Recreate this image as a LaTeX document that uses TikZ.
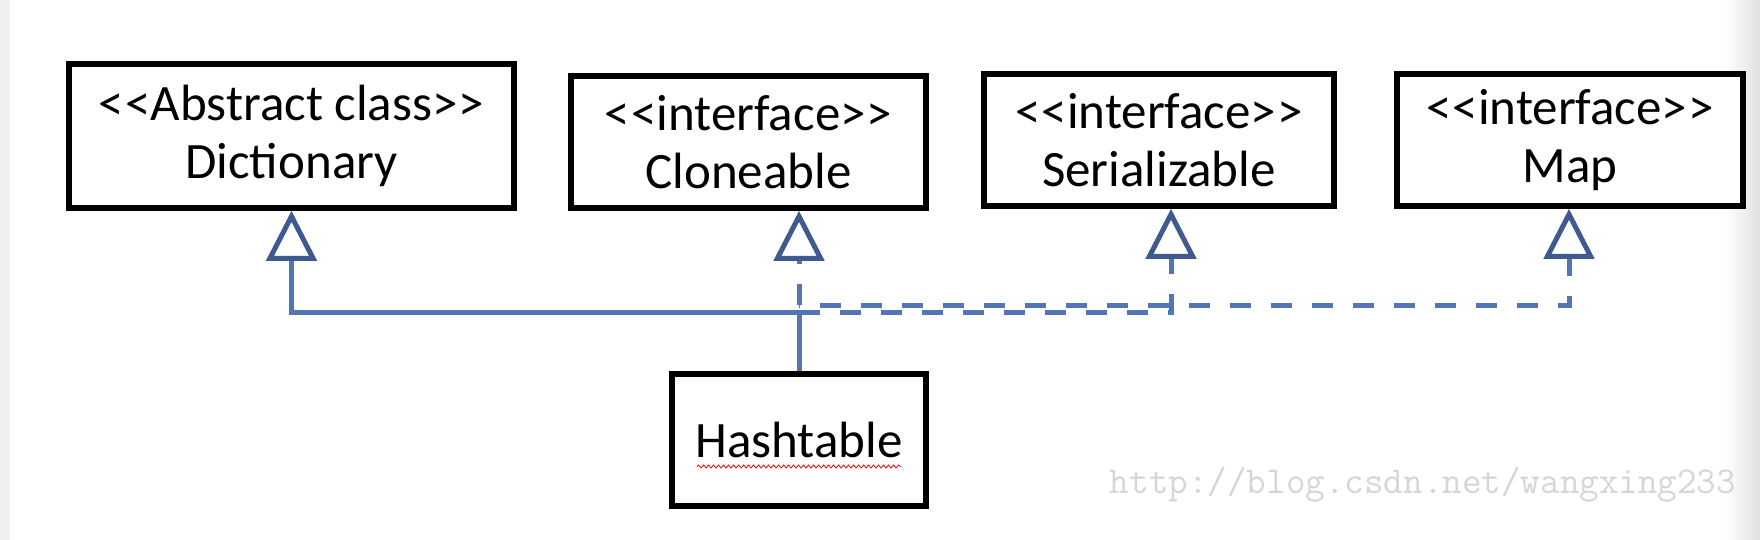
\documentclass[tikz,border=0pt]{standalone}
\usepackage{fontspec}
\setmainfont{Carlito}
\usetikzlibrary{arrows.meta,decorations.pathmorphing}
\definecolor{lineblue}{RGB}{82,117,182}
\definecolor{tipblue}{RGB}{62,90,142}
\definecolor{markgray}{RGB}{214,214,214}
\newcommand\stL{<\kern1pt<}
\newcommand\stR{>\kern1pt>}
\tikzset{
  umlbox/.style={draw=black,line width=5.5pt,fill=white,inner sep=0pt,align=center,
    font=\fontsize{51}{58}\selectfont},
  gen/.style={draw=lineblue,line width=5pt,
    -{Triangle[open,length=50pt,width=50pt,color=tipblue]}},
  realize/.style={gen,dash pattern=on 21pt off 20pt}
}
\begin{document}
\begin{tikzpicture}[x=1pt,y=-1pt]
\useasboundingbox (0,0) rectangle (1760,540);
\fill[white] (0,0) rectangle (1760,540);
\fill[black!6] (0,0) rectangle (10,540);
\shade[left color=white,right color=black!12] (1725,0) rectangle (1760,540);

\node[umlbox,minimum width=445pt,minimum height=144pt] (D) at (291.5,136){\stL Abstract class\stR\\Dictionary};
\node[umlbox,minimum width=355pt,minimum height=132pt] (C) at (748.5,142){\stL interface\stR\\Cloneable};
\node[umlbox,minimum width=350pt,minimum height=132pt] (S) at (1159,140){\stL interface\stR\\Serializable};
\node[umlbox,minimum width=346pt,minimum height=132pt] (M) at (1570,140){\stL interface\stR\\Map};
\node[umlbox,minimum width=254pt,minimum height=132pt] (H) at (799,440){Hashtable};

\coordinate (J) at (H.north |- 0,312);
\coordinate (K) at (H.north |- 0,305);

\draw[gen] (H.north) -- (J) -| (D.south);
\draw[realize] (K) -- (K |- C.south);
\draw[realize] (J) -| ([xshift=12pt]S.south);
\draw[realize,dash phase=20.5pt] (K) -| ([xshift=-1pt]M.south);

\draw[red,line width=.8pt,decorate,decoration={snake,amplitude=1.5pt,segment length=5pt}]
  ([shift={(-102pt,-9pt)}]H.base) -- ([shift={(102pt,-9pt)}]H.base);

\node[text=markgray,font=\ttfamily\fontsize{38}{40}\selectfont] (W) at (1423,485){http://blog.csdn.net/wangxing233};
\end{tikzpicture}
\end{document}
